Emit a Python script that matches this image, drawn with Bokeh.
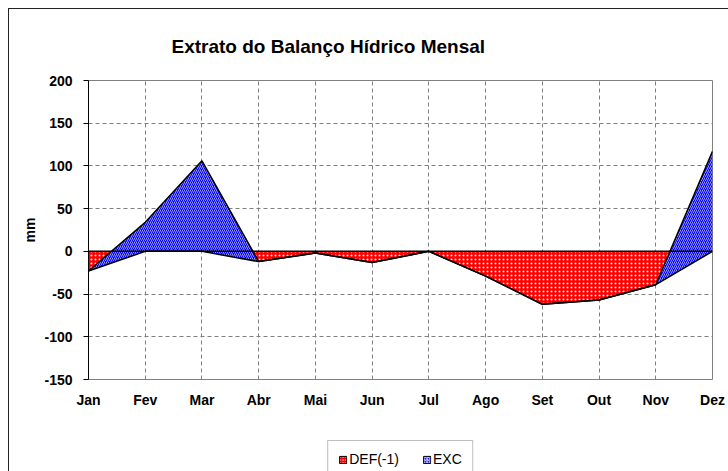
from bokeh.plotting import figure
from bokeh.layouts import column
from bokeh.models import (Range1d, FixedTicker, Span, Legend, LegendItem, Title,
                          ColumnDataSource)
from bokeh.embed import file_html
from bokeh.resources import INLINE

months = ["Jan", "Fev", "Mar", "Abr", "Mai", "Jun", "Jul", "Ago", "Set", "Out", "Nov", "Dez"]
deficit = [-23, 0, 0, -12, -2, -13, 0, -29, -62, -57, -39, 0]   # DEF(-1)
excess = [0, 34, 106, 0, 0, 0, 0, 0, 0, 0, 0, 117]             # EXC
y_ticks = [-150, -100, -50, 0, 50, 100, 150, 200]

xs = list(range(len(months)))
top = [d + e for d, e in zip(deficit, excess)]
src = ColumnDataSource(dict(x=xs, zero=[0] * len(xs), deficit=deficit, top=top))

RED_HATCH = dict(fill_color="#ff0000", hatch_pattern="dot", hatch_color="white")
BLUE_HATCH = dict(fill_color="#0000ff", hatch_pattern="right_diagonal_line",
                  hatch_color="white")

p = figure(width=720, height=432, output_backend="svg", toolbar_location=None,
           x_range=Range1d(0, len(months) - 1), y_range=Range1d(-150, 200),
           min_border_left=79, min_border_right=17, min_border_top=71,
           min_border_bottom=62, background_fill_color="white",
           border_fill_color="white", margin=(8, 0, 0, 8))
p.styles = {"border-left": "1px solid #222", "border-top": "1px solid #222"}

p.add_layout(Title(text="Extrato do Balanço Hídrico Mensal", align="left", offset=83,
                   text_font="Liberation Sans", text_font_size="19px",
                   text_font_style="bold", text_color="black",
                   standoff=47), "above")

p.outline_line_color = "#808080"
p.outline_line_width = 1

for g in (p.xgrid, p.ygrid):
    g.grid_line_color = "#808080"
    g.grid_line_dash = "4 3"
    g.grid_line_width = 1
p.xgrid.ticker = FixedTicker(ticks=xs)
p.ygrid.ticker = FixedTicker(ticks=y_ticks)

# areas (stacked like Excel)
p.varea(x="x", y1="zero", y2="deficit", source=src, hatch_scale=4, hatch_weight=1,
        **RED_HATCH)
p.varea(x="x", y1="deficit", y2="top", source=src, hatch_scale=4, hatch_weight=0.8,
        hatch_alpha=0.75, **BLUE_HATCH)
p.line(x="x", y="deficit", source=src, line_color="black", line_width=1.5)
p.line(x="x", y="top", source=src, line_color="black", line_width=1.5)
p.add_layout(Span(location=0, dimension="width", line_color="black", line_width=1.5))

# axes
p.xaxis.ticker = FixedTicker(ticks=xs)
p.xaxis.major_label_overrides = {i: m for i, m in enumerate(months)}
p.xaxis.axis_line_color = None
p.xaxis.major_tick_line_color = None
p.xaxis.minor_tick_line_color = None
p.xaxis.major_label_standoff = 6
p.xaxis.major_label_text_font = "Liberation Sans"
p.xaxis.major_label_text_font_size = "14px"
p.xaxis.major_label_text_font_style = "bold"
p.xaxis.major_label_text_color = "black"

p.yaxis.ticker = FixedTicker(ticks=y_ticks)
p.yaxis.major_label_overrides = {t: str(t) for t in y_ticks}
p.yaxis.axis_line_color = "black"
p.yaxis.major_tick_line_color = "black"
p.yaxis.major_tick_out = 5
p.yaxis.major_tick_in = 0
p.yaxis.minor_tick_line_color = None
p.yaxis.major_label_standoff = 11
p.yaxis.major_label_text_font = "Liberation Sans"
p.yaxis.major_label_text_font_size = "14px"
p.yaxis.major_label_text_font_style = "bold"
p.yaxis.major_label_text_color = "black"
p.yaxis.axis_label = "mm"
p.yaxis.axis_label_text_font = "Liberation Sans"
p.yaxis.axis_label_text_font_size = "14px"
p.yaxis.axis_label_text_font_style = "bold"
p.yaxis.axis_label_text_color = "black"
p.yaxis.axis_label_standoff = 3

# legend strip below the plot (its proxy glyphs fall outside its own ranges)
leg = figure(width=720, height=31, output_backend="svg", toolbar_location=None,
             x_range=Range1d(0, 1), y_range=Range1d(1000, 1001),
             min_border_left=66, min_border_right=0, min_border_top=0,
             min_border_bottom=0,
             x_axis_location=None, y_axis_location=None,
             margin=(0, 0, 0, 8), background_fill_color="white",
             border_fill_color="white")
leg.styles = {"border-left": "1px solid #222"}
leg.grid.visible = False
leg.outline_line_color = None
r_def = leg.quad(left="x", right="x", bottom="deficit", top="top", source=src,
                 line_color="black", line_width=1, hatch_scale=3, **RED_HATCH)
r_exc = leg.quad(left="x", right="x", bottom="deficit", top="top", source=src,
                 line_color="black", line_width=1, hatch_scale=3, **BLUE_HATCH)
legend = Legend(items=[LegendItem(label="DEF(-1)", renderers=[r_def]),
                       LegendItem(label="EXC", renderers=[r_exc])],
                orientation="horizontal", location="top_center",
                label_text_font="Liberation Sans", label_text_font_size="14px",
                label_text_color="black",
                glyph_width=9, glyph_height=9, label_standoff=2, spacing=23,
                padding=10, margin=0, border_line_color="#808080",
                background_fill_color="white", label_height=10)
leg.add_layout(legend, "center")

layout = column(p, leg, spacing=0)
open("out.html", "w").write(file_html(layout, INLINE))
